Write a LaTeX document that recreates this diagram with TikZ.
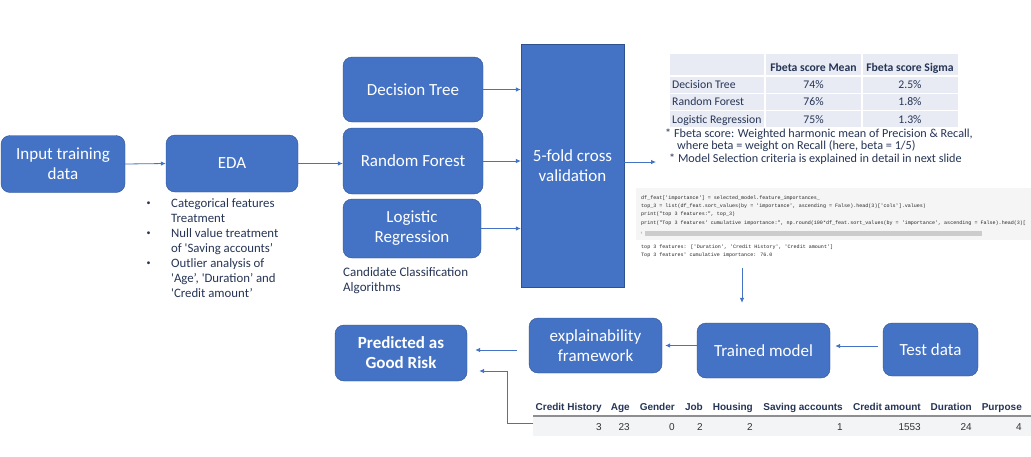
\documentclass[tikz,border=0pt]{standalone}
\usepackage{fontspec}
\setmainfont{Carlito}
\newfontfamily\tabfont{Liberation Sans}
\newfontfamily\codefont{Liberation Mono}
\usetikzlibrary{math}
\usetikzlibrary{calc,arrows.meta}

\definecolor{boxblue}{HTML}{4472C4}
\definecolor{boxline}{HTML}{2F528F}
\definecolor{navy}{HTML}{263556}
\definecolor{tabbg}{HTML}{E8EBF3}
\definecolor{codebg}{HTML}{F5F5F5}
\definecolor{rowbg}{HTML}{F3F4F6}
\definecolor{hdrline}{HTML}{8E8E8E}

\tikzset{
  block/.style={draw=boxline, fill=boxblue, rounded corners=9pt, text=white, align=center,
    font=\fontsize{17}{20}\selectfont, inner sep=2pt},
  arr/.style={draw=boxblue, line width=0.8pt, -{Latex[length=5pt,width=4.5pt]}},
  note/.style={text=navy, inner sep=0pt, anchor=base west}
}

\def\sq{\textquotesingle}
\def\dq{\textquotedbl}

\begin{document}
\begin{tikzpicture}[x=1pt,y=-1pt]

% Canvas
\path[use as bounding box, fill=white] (0,0) rectangle (1031,456);

% Pipeline blocks
\node[block, minimum width=124pt, minimum height=57pt] (input) at (63,164) {Input training\\data};
\node[block, minimum width=132pt, minimum height=57pt] (eda) at (232,163.5) {EDA};
\node[block, minimum width=140pt, minimum height=65pt] (dt) at (413,89.5) {Decision Tree};
\node[block, minimum width=140pt, minimum height=66pt] (rf) at (413,161) {Random Forest};
\node[block, minimum width=138pt, minimum height=59pt] (lr) at (412,228.5) {Logistic\\Regression};
\node[block, rounded corners=0pt, minimum width=103pt, minimum height=243pt] (cv) at (572.5,165.5) {5-fold cross\\validation};

% Lower row
\node[block, font=\fontsize{17}{20}\selectfont\bfseries, minimum width=132pt, minimum height=56pt] (pred) at (401,353) {Predicted as\\Good Risk};
\node[block, minimum width=133pt, minimum height=55pt] (expl) at (595.5,345.5) {explainability\\framework};
\node[block, minimum width=133pt, minimum height=55pt] (trained) at (763.5,350.5) {Trained model};
\node[block, minimum width=95pt, minimum height=53pt] (test) at (930.5,349.5) {Test data};

% EDA bullet list
\foreach \y/\txt [count=\i] in {207/Categorical features, 222/Treatment, 237/Null value treatment,
    252/{of \sq Saving accounts’}, 267/Outlier analysis of, 282/{\sq Age’, \sq Duration’ and}, 297/{\sq Credit amount’}}{
   \node[note, font=\fontsize{12.8}{15}\selectfont] (edal\i) at (171,\y) {\txt};
}
\foreach \y [count=\i] in {207,237,267}{
   \node[note, font=\fontsize{8}{10}\selectfont] (edab\i) at (146.5,\y-1.5) {\textbullet};
}

% Caption below the models
\node[note, font=\fontsize{13}{15}\selectfont] (capa) at (343,276) {Candidate Classification};
\node[note, font=\fontsize{13}{15}\selectfont] (capb) at (343,291) {Algorithms};

% Fbeta table (cells, then white grid)
\fill[tabbg] (670,54) rectangle (958,127);
\foreach \yy in {76,93.5,110.5}{
   \draw[white, line width=1.5pt] (670,\yy) -- (958,\yy);
}
\foreach \xx in {765,862}{
   \draw[white, line width=1.5pt] (\xx,54) -- (\xx,127);
}
\node[text=navy, font=\fontsize{11.7}{14}\selectfont\bfseries, anchor=base] (hmean) at (813.5,71) {Fbeta score Mean};
\node[text=navy, font=\fontsize{11.7}{14}\selectfont\bfseries, anchor=base] (hsig) at (910,71) {Fbeta score Sigma};
\foreach \nm/\mn/\sg [count=\i] in {Decision Tree/74\%/2.5\%, Random Forest/76\%/1.8\%, Logistic Regression/75\%/1.3\%}{
   \tikzmath{ \yb = 70.5 + 17.5*\i; }
   \node[note, font=\fontsize{11.7}{14}\selectfont] (tn\i) at (672,\yb) {\nm};
   \node[text=navy, font=\fontsize{11.7}{14}\selectfont, anchor=base] (tm\i) at (813.5,\yb) {\mn};
   \node[text=navy, font=\fontsize{11.7}{14}\selectfont, anchor=base] (ts\i) at (910,\yb) {\sg};
}

% Notes under the table
\node[note, font=\fontsize{12.2}{14}\selectfont] (fna) at (665,137) {* Fbeta score: Weighted harmonic mean of Precision \& Recall,};
\node[note, font=\fontsize{12.2}{14}\selectfont] (fnb) at (677,149) {where beta = weight on Recall (here, beta = 1/5)};
\node[note, font=\fontsize{12.2}{14}\selectfont] (fnc) at (669,162) {* Model Selection criteria is explained in detail in next slide};

% Code snippet
\fill[codebg] (636,188) rectangle (1031,240);
\fill[gray!40] (645,231) rectangle (982,236);
\node[text=gray, font=\codefont\fontsize{5}{6}\selectfont, anchor=west, inner sep=0pt] (bar) at (640,233.5) {‹};
\foreach \y/\ln [count=\i] in {
   199/{df\_feat[\sq importance\sq] = selected\_model.feature\_importances\_},
   207/{top\_3 = list(df\_feat.sort\_values(by = \sq importance\sq, ascending = False).head(3)[\sq cols\sq].values)},
   215/{print(\dq top 3 features:\dq, top\_3)},
   224/{print(\dq Top 3 features\sq\ cumulative importance:\dq, np.round(100*df\_feat.sort\_values(by = \sq importance\sq, ascending = False).head(3)[},
   248/{top 3 features: [\sq Duration\sq, \sq Credit History\sq, \sq Credit amount\sq]},
   256/{Top 3 features\sq\ cumulative importance: 76.0}}{
   \node[text=black!85, font=\codefont\fontsize{5.05}{6}\selectfont, inner sep=0pt, anchor=base west] (code\i) at (641,\y) {\ln};
}

% Feature table of one test row
\fill[rowbg] (533,416) rectangle (1031,436);
\draw[hdrline, line width=2pt] (533,416) -- (1031,416);
\foreach \rx/\hd/\val [count=\i] in {602/Credit History/3, 630/Age/23, 675/Gender/0, 703/Job/2, 753/Housing/2,
    843/Saving accounts/1, 921/Credit amount/1553, 972/Duration/24, 1022/Purpose/4}{
   \node[text=navy, font=\tabfont\fontsize{10}{12}\selectfont\bfseries, inner sep=0pt, anchor=base east] (fh\i) at (\rx,410) {\hd};
   \node[text=black!80, font=\tabfont\fontsize{10}{12}\selectfont, inner sep=0pt, anchor=base east] (fv\i) at (\rx,430) {\val};
}
\coordinate (rowin) at (533,423);

% Connectors
\coordinate (fbeta) at (656,162);
\coordinate (codeout) at (742,268);
\draw[arr] (input.east) -- (eda.west);
\draw[arr] (eda.east) -- (eda.east -| rf.west);
\draw[arr] (dt.east) -- (dt.east -| cv.west);
\draw[arr] (rf.east) -- (rf.east -| cv.west);
\draw[arr] (lr.east) -- (lr.east -| cv.west);
\draw[arr] (cv.east |- fbeta) -- (fbeta);
\draw[arr, shorten >=20pt] (codeout) -- (codeout |- trained.north);
\draw[arr, shorten <=5pt, shorten >=5pt] ([yshift=3.5pt]test.west) -- ([yshift=3.5pt]test.west -| trained.east);
\draw[arr, shorten >=3pt] (trained.west |- expl.east) -- (expl.east);
\draw[arr, shorten <=12pt, shorten >=8pt] ([yshift=-4.5pt]expl.west) -- ([yshift=-4.5pt]expl.west -| pred.east);
\draw[arr, shorten >=12pt] (rowin) -- ++(-26,0) |- ([yshift=-18pt]pred.east);

\end{tikzpicture}
\end{document}
